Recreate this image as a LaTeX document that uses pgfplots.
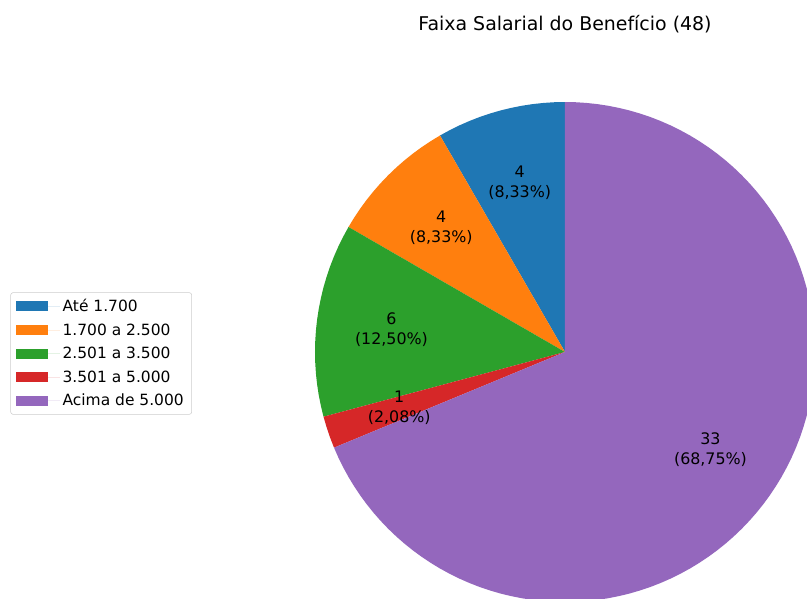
\documentclass[border=0pt]{standalone}
\usepackage{fontspec}
\setmainfont{DejaVu Sans}
\usepackage{pgfplots}
\pgfplotsset{compat=1.18}
\usepgfplotslibrary{polar}
\definecolor{c1}{HTML}{1F77B4}
\definecolor{c2}{HTML}{FF7F0E}
\definecolor{c3}{HTML}{2CA02C}
\definecolor{c4}{HTML}{D62728}
\definecolor{c5}{HTML}{9467BD}
\begin{document}
\begin{tikzpicture}
\path[use as bounding box, clip] (0pt,0pt) rectangle (605.25pt,-449.25pt);
\begin{polaraxis}[
  at={(423.75pt,-264pt)}, anchor=center,
  scale only axis, width=375pt, height=375pt,
  hide axis, clip=false,
  xmin=0, xmax=360, ymin=0, ymax=1,
  title={Faixa Salarial do Benefício (48)},
  title style={at={(0.5,1)}, anchor=center, yshift=44.3pt, font=\fontsize{14.2}{17}\selectfont},
  legend style={at={(-0.246,0.497)}, anchor=east, draw=black!20, rounded corners=2pt, fill=white,
    font=\fontsize{11.6}{14}\selectfont, row sep=3.5pt, inner xsep=4pt, inner ysep=3pt},
  legend cell align=left,
  legend image code/.code={\fill[#1, sharp corners] (0pt,-3.75pt) rectangle (24pt,3.75pt); \path (0pt,0pt) -- (33pt,0pt);},
]
\addplot[fill=c1, draw=none] coordinates {(0,0) (90,1) (92.5,1) (95,1) (97.5,1) (100,1) (102.5,1) (105,1) (107.5,1) (110,1) (112.5,1) (115,1) (117.5,1) (120,1)};
\addlegendentry{Até 1.700}
\addplot[fill=c2, draw=none] coordinates {(0,0) (120,1) (122.5,1) (125,1) (127.5,1) (130,1) (132.5,1) (135,1) (137.5,1) (140,1) (142.5,1) (145,1) (147.5,1) (150,1)};
\addlegendentry{1.700 a 2.500}
\addplot[fill=c3, draw=none] coordinates {(0,0) (150,1) (152.5,1) (155,1) (157.5,1) (160,1) (162.5,1) (165,1) (167.5,1) (170,1) (172.5,1) (175,1) (177.5,1) (180,1) (182.5,1) (185,1) (187.5,1) (190,1) (192.5,1) (195,1)};
\addlegendentry{2.501 a 3.500}
\addplot[fill=c4, draw=none] coordinates {(0,0) (195,1) (197.5,1) (200,1) (202.5,1)};
\addlegendentry{3.501 a 5.000}
\addplot[fill=c5, draw=none] coordinates {(0,0) (202.5,1) (205,1) (207.5,1) (210,1) (212.5,1) (215,1) (217.5,1) (220,1) (222.5,1) (225,1) (227.5,1) (230,1) (232.5,1) (235,1) (237.5,1) (240,1) (242.5,1) (245,1) (247.5,1) (250,1) (252.5,1) (255,1) (257.5,1) (260,1) (262.5,1) (265,1) (267.5,1) (270,1) (272.5,1) (275,1) (277.5,1) (280,1) (282.5,1) (285,1) (287.5,1) (290,1) (292.5,1) (295,1) (297.5,1) (300,1) (302.5,1) (305,1) (307.5,1) (310,1) (312.5,1) (315,1) (317.5,1) (320,1) (322.5,1) (325,1) (327.5,1) (330,1) (332.5,1) (335,1) (337.5,1) (340,1) (342.5,1) (345,1) (347.5,1) (350,1) (352.5,1) (355,1) (357.5,1) (0,1) (2.5,1) (5,1) (7.5,1) (10,1) (12.5,1) (15,1) (17.5,1) (20,1) (22.5,1) (25,1) (27.5,1) (30,1) (32.5,1) (35,1) (37.5,1) (40,1) (42.5,1) (45,1) (47.5,1) (50,1) (52.5,1) (55,1) (57.5,1) (60,1) (62.5,1) (65,1) (67.5,1) (70,1) (72.5,1) (75,1) (77.5,1) (80,1) (82.5,1) (85,1) (87.5,1) (90,1)};
\addlegendentry{Acima de 5.000}
\begin{scope}[every node/.style={align=center, font=\fontsize{11.9}{15}\selectfont}]
\node at (axis cs:105,0.7) {4\\(8,33\%)};
\node at (axis cs:135,0.7) {4\\(8,33\%)};
\node at (axis cs:172.5,0.7) {6\\(12,50\%)};
\node at (axis cs:198.75,0.7) {1\\(2,08\%)};
\node at (axis cs:326.25,0.7) {33\\(68,75\%)};
\end{scope}
\end{polaraxis}
\end{tikzpicture}
\end{document}
